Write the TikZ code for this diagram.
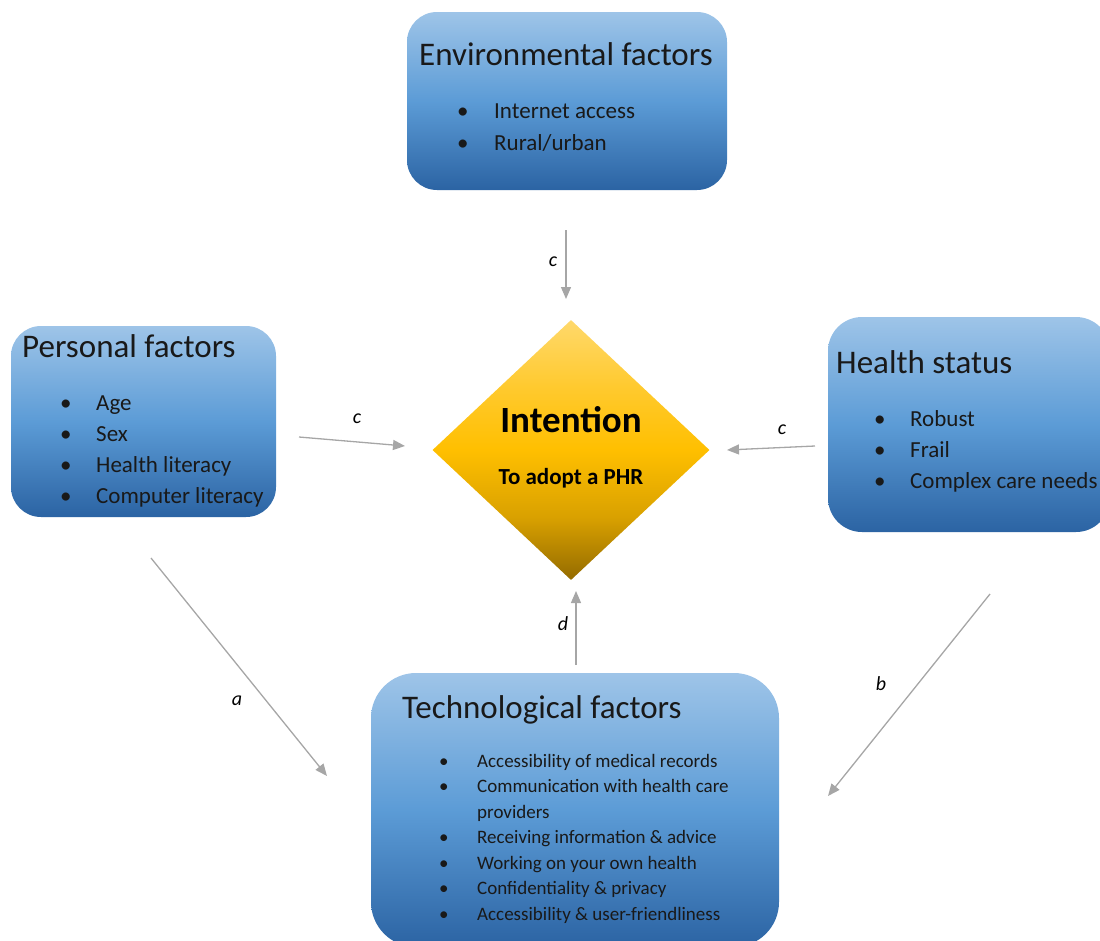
\documentclass[tikz,border=0pt]{standalone}
\usepackage{fontspec}
\setmainfont{Carlito}
\usetikzlibrary{arrows.meta,shapes.geometric}
\definecolor{arrowgray}{RGB}{166,166,166}
\pgfdeclareverticalshading{boxshade}{100bp}{%
  rgb(0bp)=(0.17,0.39,0.64); rgb(25bp)=(0.17,0.39,0.64);
  rgb(50bp)=(0.36,0.61,0.84);
  rgb(75bp)=(0.62,0.77,0.91); rgb(100bp)=(0.62,0.77,0.91)}
\pgfdeclareverticalshading{dmshade}{100bp}{%
  rgb(0bp)=(0.58,0.42,0.0); rgb(25bp)=(0.58,0.42,0.0);
  rgb(37bp)=(0.85,0.63,0.0);
  rgb(50bp)=(1.0,0.75,0.0);
  rgb(62bp)=(1.0,0.79,0.18);
  rgb(75bp)=(1.0,0.85,0.42); rgb(100bp)=(1.0,0.85,0.42)}
\newcommand\bul[2]{\makebox[#1][l]{•}#2}
\begin{document}
\begin{tikzpicture}[x=1pt,y=-1pt,
  factor/.style={rectangle, inner sep=0pt, shading=boxshade, draw=none},
  intent/.style={diamond, inner sep=0pt, aspect=1.065, shading=dmshade, draw=none},
  title/.style={anchor=base west, inner sep=0pt, font=\fontsize{33}{40}\selectfont, text=black!90},
  items/.style={anchor=base west, inner sep=0pt, font=\fontsize{23}{31}\selectfont, text=black!90},
  techitems/.style={anchor=base west, inner sep=0pt, font=\fontsize{19}{25.5}\selectfont, text=black!90},
  conn/.style={draw=arrowgray, line width=1.3pt, -{Triangle[length=12pt,width=10pt]}},
  lab/.style={inner sep=0pt, font=\fontsize{20}{24}\selectfont\itshape}]
\useasboundingbox (0,0) rectangle (1100,940);
\clip (0,0) rectangle (1100,940);

% boxes
\node[factor, rounded corners=30pt, minimum width=320pt, minimum height=178pt] (env) at (567,101) {};
\node[factor, rounded corners=30pt, minimum width=265pt, minimum height=191pt] (pers) at (143.5,421.5) {};
\node[factor, rounded corners=34pt, minimum width=282pt, minimum height=215pt] (health) at (969,424.5) {};
\node[factor, rounded corners=45pt, minimum width=408pt, minimum height=274pt] (tech) at (575,810) {};
\node[intent, minimum width=277pt, minimum height=260pt] (int) at (571,450) {};

% texts
\node[title] (envt) at (419,65) {Environmental factors};
\node[items] (envl) at (457,118) {\fontsize{23}{32}\selectfont\begin{tabular}[t]{@{}l@{}}\bul{37pt}{Internet access}\\ \bul{37pt}{Rural/urban}\end{tabular}};

\node[title] (perst) at (22,357) {Personal factors};
\node[items] (persl) at (60,410) {\begin{tabular}[t]{@{}l@{}}\bul{36pt}{Age}\\ \bul{36pt}{Sex}\\ \bul{36pt}{Health literacy}\\ \bul{36pt}{Computer literacy}\end{tabular}};

\node[title] (healtht) at (836,373) {Health status};
\node[items] (healthl) at (874,426) {\begin{tabular}[t]{@{}l@{}}\bul{36pt}{Robust}\\ \bul{36pt}{Frail}\\ \bul{36pt}{Complex care needs}\end{tabular}};

\node[title] (techt) at (402,718) {Technological factors};
\node[techitems] (techl) at (439,767) {\begin{tabular}[t]{@{}l@{}}\bul{38pt}{Accessibility of medical records}\\ \bul{38pt}{Communication with health care}\\ \hspace{38pt}providers\\ \bul{38pt}{Receiving information \& advice}\\ \bul{38pt}{Working on your own health}\\ \bul{38pt}{Confidentiality \& privacy}\\ \bul{38pt}{Accessibility \& user-friendliness}\end{tabular}};

\node[anchor=base, inner sep=0pt, font=\fontsize{37}{40}\selectfont\bfseries] (intt) at (571,432) {Intention};
\node[anchor=base, inner sep=0pt, font=\fontsize{23}{26}\selectfont\bfseries] (ints) at (571,484) {To adopt a PHR};

% connector end points
\coordinate (cTs) at (566,230); \coordinate (cTe) at (566,299);
\coordinate (cLs) at (299,437); \coordinate (cLe) at (405,446);
\coordinate (cRs) at (815,446); \coordinate (cRe) at (727,450);
\coordinate (dS) at (576,665);  \coordinate (dE) at (576,591);
\coordinate (aS) at (151,558);  \coordinate (aE) at (327,776);
\coordinate (bS) at (990,594);  \coordinate (bE) at (828,796);

\draw[conn] (cTs) -- (cTe);
\draw[conn] (cLs) -- (cLe);
\draw[conn] (cRs) -- (cRe);
\draw[conn] (dS) -- (dE);
\draw[conn] (aS) -- (aE);
\draw[conn] (bS) -- (bE);

\node[lab] (lc1) at (553,262) {c};
\node[lab] (lc2) at (357,419) {c};
\node[lab] (lc3) at (782,430) {c};
\node[lab] (ld) at (563,624) {d};
\node[lab] (la) at (237,701) {a};
\node[lab] (lb) at (881,684) {b};
\end{tikzpicture}
\end{document}
